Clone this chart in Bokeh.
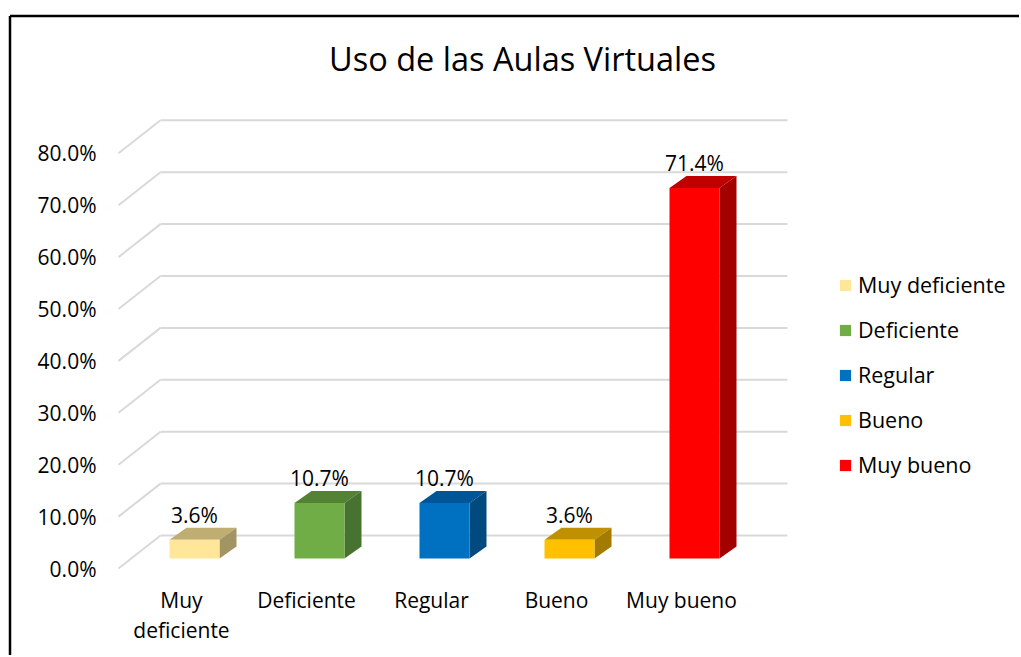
from bokeh.plotting import figure
from bokeh.models import Range1d, ColumnDataSource
from bokeh.embed import file_html
from bokeh.resources import INLINE
from bokeh.core.properties import value

# ---------------- data ----------------
categories = ["Muy deficiente", "Deficiente", "Regular", "Bueno", "Muy bueno"]
axis_labels = ["Muy\ndeficiente", "Deficiente", "Regular", "Bueno", "Muy bueno"]
percentages = [0.036, 0.107, 0.107, 0.036, 0.714]
y_ticks = [0.0, 0.1, 0.2, 0.3, 0.4, 0.5, 0.6, 0.7, 0.8]
y_tick_labels = ["0.0%", "10.0%", "20.0%", "30.0%", "40.0%", "50.0%", "60.0%", "70.0%", "80.0%"]
title_text = "Uso de las Aulas Virtuales"
front_colors = ["#FFE699", "#70AD47", "#0070C0", "#FFC000", "#FF0000"]
top_colors = ["#BFAD72", "#548235", "#005596", "#BF9000", "#C00000"]
side_colors = ["#A39463", "#487230", "#004A80", "#A37B00", "#A30000"]

# ---------------- layout (canvas pixels, frame = whole canvas) ----------------
W, H = 1019, 655
X0 = 194          # centre of first bar front face
DX = 125          # pixels per category
KY = 519.0        # pixels per 100 %
Y0_BACK = 535     # 0 % on the back wall
Y0_BARS = 558     # 0 % on the bars' front plane
Y0_FRONT = 568    # 0 % on the floor's front edge
FRONT_LEFT, BACK_LEFT, BACK_RIGHT = 118, 160, 787
BAR_W = 50
DEPTH_X, DEPTH_Y = 17, 12   # bar depth offset
CAT_LABEL_SHIFT = -13       # category labels sit left of bar centres
TITLE_X, TITLE_Y = 522, 58
BORDER_X, BORDER_Y = 9.5, 15.5

FONT = "Open Sans"


def yr(y_zero):
    return Range1d((y_zero - H) / KY, y_zero / KY)


def px_x(px):
    return (px - X0) / DX


p = figure(width=W, height=H, x_range=Range1d(px_x(0), px_x(W)), y_range=yr(Y0_BACK),
           x_axis_type=None, y_axis_type=None,
           min_border=0, min_border_left=0, min_border_right=0,
           min_border_top=0, min_border_bottom=0,
           output_backend="svg", toolbar_location=None)
p.outline_line_color = None
p.background_fill_color = "white"
p.border_fill_color = "white"
p.extra_y_ranges = {"bars": yr(Y0_BARS), "front": yr(Y0_FRONT), "canvas": Range1d(H, 0)}

# ---------------- chart border (left + top, cut off at right/bottom) ----------------
p.segment(x0=[px_x(BORDER_X), px_x(BORDER_X)], y0=[BORDER_Y, BORDER_Y],
          x1=[px_x(BORDER_X), px_x(W + 5)], y1=[H + 5, BORDER_Y],
          y_range_name="canvas", line_color="black", line_width=2.5)

# ---------------- title ----------------
p.text(x=[px_x(TITLE_X)], y=[TITLE_Y], text=[title_text], y_range_name="canvas",
       text_align="center", text_baseline="middle", text_font=value(FONT),
       text_font_size="32.5px", text_color="black")

# ---------------- gridlines (back wall + side diagonals) ----------------
n = len(y_ticks)
bl, br, fl = px_x(BACK_LEFT), px_x(BACK_RIGHT), px_x(FRONT_LEFT)
depth = (Y0_FRONT - Y0_BACK) / KY
p.segment(x0=[bl] * n, y0=y_ticks, x1=[br] * n, y1=y_ticks,
          line_color="#d9d9d9", line_width=2)
p.segment(x0=[fl] * n, y0=[t - depth for t in y_ticks], x1=[bl] * n, y1=y_ticks,
          line_color="#d9d9d9", line_width=2)

# y tick labels at the front edge
p.text(x=[fl] * n, y=y_ticks, text=y_tick_labels, y_range_name="front",
       x_offset=-22, text_align="right", text_baseline="middle",
       text_font=value(FONT), text_font_size="21px", text_color="black")

# ---------------- bars ----------------
xs_idx = list(range(len(categories)))
hw = BAR_W / DX / 2
ddx = DEPTH_X / DX
ddy = DEPTH_Y / KY

top_xs = [[i - hw, i + hw, i + hw + ddx, i - hw + ddx] for i in xs_idx]
top_ys = [[v, v, v + ddy, v + ddy] for v in percentages]
side_xs = [[i + hw, i + hw + ddx, i + hw + ddx, i + hw] for i in xs_idx]
side_ys = [[0, ddy, v + ddy, v] for v in percentages]

p.patches(top_xs, top_ys, fill_color=top_colors, line_color=None, y_range_name="bars")
p.patches(side_xs, side_ys, fill_color=side_colors, line_color=None, y_range_name="bars")

src = ColumnDataSource(dict(x=xs_idx, top=percentages, category=categories,
                            color=front_colors))
p.vbar(x="x", top="top", bottom=0, width=2 * hw, fill_color="color",
       line_color=None, y_range_name="bars", legend_field="category", source=src)

# data labels
p.text(x=xs_idx, y=[v + ddy for v in percentages],
       text=[f"{v * 100:.1f}%" for v in percentages],
       y_range_name="bars", text_align="center", text_baseline="bottom",
       y_offset=1, text_font=value(FONT), text_font_size="21px", text_color="black")

# category labels under the floor
p.text(x=xs_idx, y=[0] * len(xs_idx), text=axis_labels, y_range_name="front",
       x_offset=CAT_LABEL_SHIFT, y_offset=17, text_align="center", text_baseline="top",
       text_line_height=1.08,
       text_font=value(FONT), text_font_size="21px", text_color="black")

# ---------------- legend ----------------
lg = p.legend[0]
lg.location = (838, 176)
lg.border_line_color = None
lg.background_fill_alpha = 0
lg.padding = 0
lg.margin = 0
lg.glyph_width = 14
lg.glyph_height = 14
lg.label_standoff = 6
lg.spacing = 16
lg.label_text_font = FONT
lg.label_text_font_size = "21.5px"
lg.label_text_color = "black"

open("out.html", "w").write(file_html(p, INLINE))
